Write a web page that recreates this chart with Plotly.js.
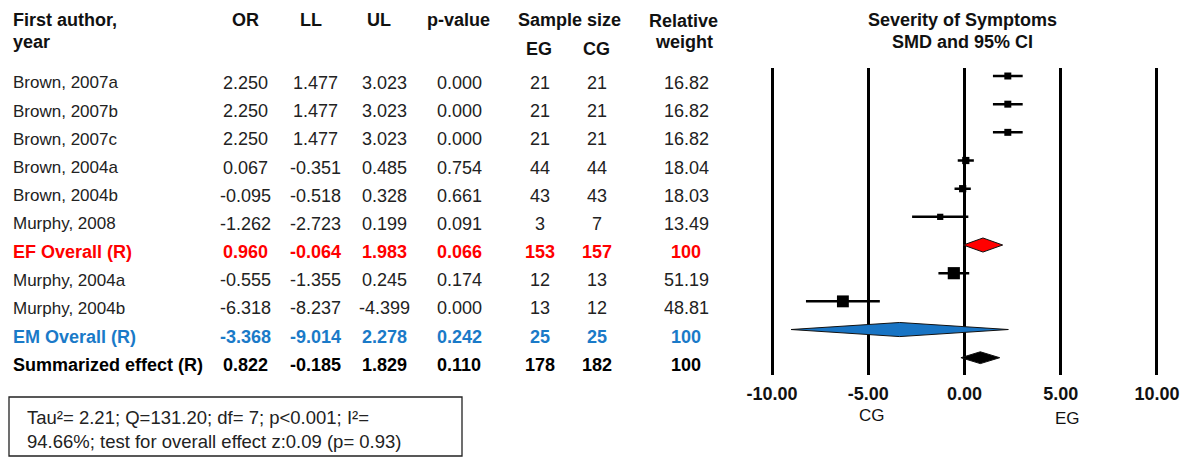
<!DOCTYPE html>
<html>
<head>
<meta charset="utf-8">
<script src="https://cdn.plot.ly/plotly-3.0.1.min.js"></script>
<style>
  html, body { margin: 0; padding: 0; background: #fff; }
  #chart { width: 1199px; height: 457px; }
</style>
</head>
<body>
<div id="chart"></div>
<script>
// Study rows, top to bottom
const studies = ['Brown, 2007a', 'Brown, 2007b', 'Brown, 2007c', 'Brown, 2004a', 'Brown, 2004b',
  'Murphy, 2008', 'EF Overall (R)', 'Murphy, 2004a', 'Murphy, 2004b', 'EM Overall (R)', 'Summarized effect (R)'];
// Row type: individual study or pooled estimate
const rowKind = ['study', 'study', 'study', 'study', 'study', 'study', 'EF', 'study', 'study', 'EM', 'total'];
// Effect size and 95% limits
const effect = [2.250, 2.250, 2.250, 0.067, -0.095, -1.262, 0.960, -0.555, -6.318, -3.368, 0.822];
const lower = [1.477, 1.477, 1.477, -0.351, -0.518, -2.723, -0.064, -1.355, -8.237, -9.014, -0.185];
const upper = [3.023, 3.023, 3.023, 0.485, 0.328, 0.199, 1.983, 0.245, -4.399, 2.278, 1.829];
const pValue = [0.000, 0.000, 0.000, 0.754, 0.661, 0.091, 0.066, 0.174, 0.000, 0.242, 0.110];
// Sample sizes: experimental and control groups
const nEG = [21, 21, 21, 44, 43, 3, 153, 12, 13, 25, 178];
const nCG = [21, 21, 21, 44, 43, 7, 157, 13, 12, 25, 182];
const relWeight = [16.82, 16.82, 16.82, 18.04, 18.03, 13.49, 100, 51.19, 48.81, 100, 100];
// Axis ticks
const tickValues = [-10, -5, 0, 5, 10];
const summaryText = 'Tau²= 2.21; Q=131.20; df= 7; p<0.001; I²=<br>94.66%; test for overall effect z:0.09 (p= 0.93)';

const W = 1199, H = 457;
const FONT = '"Liberation Sans", Arial, sans-serif';
const kindColor = { study: '#222222', EF: '#ff0000', EM: '#1a7ac8', total: '#000000' };
const diamondFill = { EF: '#ff0000', EM: '#1874c4', total: '#000000' };
const diamondHalf = { EF: 0.25, EM: 0.25, total: 0.21 };

const px = x => x / W;
const py = y => 1 - y / H;

// Individual studies: squares with CI whiskers
const studyIdx = rowKind.map((k, i) => k === 'study' ? i : -1).filter(i => i >= 0);
const traces = [{
  type: 'scatter', mode: 'markers',
  x: studyIdx.map(i => effect[i]),
  y: studyIdx,
  marker: {
    symbol: 'square', color: '#000', opacity: 1, line: { width: 0 },
    size: studyIdx.map(i => 1.7 * Math.sqrt(relWeight[i]))
  },
  error_x: {
    type: 'data', symmetric: false,
    array: studyIdx.map(i => upper[i] - effect[i]),
    arrayminus: studyIdx.map(i => effect[i] - lower[i]),
    color: '#000', thickness: 2.5, width: 0
  },
  cliponaxis: false, hoverinfo: 'skip', showlegend: false
}];

// Pooled estimates: diamonds spanning the confidence interval
rowKind.forEach((k, i) => {
  if (k === 'study') return;
  const h = diamondHalf[k];
  traces.push({
    type: 'scatter', mode: 'lines', fill: 'toself',
    x: [lower[i], effect[i], upper[i], effect[i], lower[i]],
    y: [i, i - h, i, i + h, i],
    fillcolor: diamondFill[k],
    line: { color: '#111', width: 1 },
    hoverinfo: 'skip', showlegend: false
  });
});

const annotations = [];
function note(text, x, y, opt) {
  annotations.push(Object.assign({
    text, x, y, xref: 'paper', yref: 'paper', showarrow: false,
    xanchor: 'center', yanchor: 'middle',
    font: { family: FONT, size: 17, color: '#000' }
  }, opt || {}));
}

// Column headers
const hdrFont = { family: FONT, size: 18, color: '#111' };
note('<b>First author,</b>', px(11), py(20), { xanchor: 'left', font: hdrFont });
note('<b>year</b>', px(11), py(42), { xanchor: 'left', font: hdrFont });
note('<b>OR</b>', px(245), py(20), { font: hdrFont });
note('<b>LL</b>', px(311), py(20), { font: hdrFont });
note('<b>UL</b>', px(379), py(20), { font: hdrFont });
note('<b>p-value</b>', px(458), py(20), { font: hdrFont });
note('<b>Sample size</b>', px(569), py(20), { font: hdrFont });
note('<b>EG</b>', px(539), py(49), { font: hdrFont });
note('<b>CG</b>', px(596), py(49), { font: hdrFont });
note('<b>Relative</b>', px(683), py(21), { font: hdrFont });
note('<b>weight</b>', px(684), py(42), { font: hdrFont });

// Forest plot heading
note('<b>Severity of Symptoms</b>', px(962), py(20), { font: hdrFont });
note('<b>SMD and 95% CI</b>', px(962), py(42), { font: hdrFont });

// Table body
const columns = [
  { x: 245, fmt: i => effect[i].toFixed(3) },
  { x: 315, fmt: i => lower[i].toFixed(3) },
  { x: 384, fmt: i => upper[i].toFixed(3) },
  { x: 459, fmt: i => pValue[i].toFixed(3) },
  { x: 540, fmt: i => String(nEG[i]) },
  { x: 597, fmt: i => String(nCG[i]) },
  { x: 686, fmt: i => rowKind[i] === 'study' ? relWeight[i].toFixed(2) : String(relWeight[i]) }
];
studies.forEach((name, i) => {
  const bold = rowKind[i] !== 'study';
  const color = kindColor[rowKind[i]];
  const wrap = s => bold ? '<b>' + s + '</b>' : s;
  const base = { yref: 'y', y: i, yshift: -7, xref: 'paper', yanchor: 'middle', showarrow: false };
  annotations.push(Object.assign({ text: wrap(name), x: px(11), xanchor: 'left',
    font: { family: FONT, size: bold ? 18 : 17, color } }, base));
  columns.forEach(c => {
    annotations.push(Object.assign({ text: wrap(c.fmt(i)), x: px(c.x), xanchor: 'center',
      font: { family: FONT, size: 18, color } }, base));
  });
});

// Axis side labels
note('CG', px(872), py(415), { font: { family: FONT, size: 17, color: '#111' } });
note('EG', px(1067), py(418), { font: { family: FONT, size: 17, color: '#111' } });

// Heterogeneity summary
note(summaryText, px(25), py(429), { xanchor: 'left', align: 'left', font: { family: FONT, size: 18.5, color: '#222' } });

const layout = {
  width: W, height: H,
  margin: { l: 0, r: 0, t: 0, b: 0 },
  paper_bgcolor: '#fff', plot_bgcolor: '#fff',
  showlegend: false,
  xaxis: {
    range: [-10.5, 10.5],
    domain: [px(762.4), px(1166.6)],
    tickvals: tickValues,
    ticktext: tickValues.map(v => '<b>' + v.toFixed(2) + '</b>'),
    showgrid: true, gridcolor: '#000', gridwidth: 3,
    zeroline: false, showline: false,
    ticks: 'outside', ticklen: 2, tickcolor: 'rgba(0,0,0,0)',
    tickfont: { family: FONT, size: 18, color: '#111' },
    fixedrange: true
  },
  yaxis: {
    range: [10.614, -0.284],
    domain: [py(375), py(68)],
    showgrid: false, zeroline: false, showline: false,
    showticklabels: false, ticks: '',
    fixedrange: true
  },
  shapes: [{
    type: 'rect', xref: 'paper', yref: 'paper',
    x0: px(9), x1: px(462), y0: py(397), y1: py(456),
    line: { color: '#222', width: 1.3 }
  }],
  annotations
};

Plotly.newPlot('chart', traces, layout, { displayModeBar: false, staticPlot: true });
</script>
</body>
</html>
